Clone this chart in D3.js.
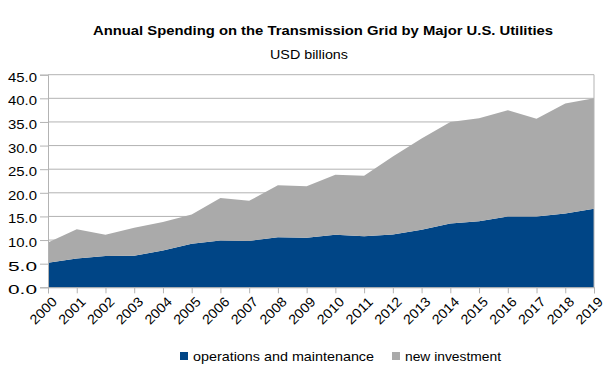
<!DOCTYPE html>
<html><head><meta charset="utf-8">
<script src="https://cdn.jsdelivr.net/npm/d3@7"></script>
<style>body{margin:0;background:#fff;}svg{display:block;font-family:"Liberation Sans",Arial,sans-serif;}</style>
</head><body><svg id="c" width="615" height="382"></svg>
<script>
const years = ["2000","2001","2002","2003","2004","2005","2006","2007","2008","2009","2010","2011","2012","2013","2014","2015","2016","2017","2018","2019"];
const operations = [5.2,6.1,6.6,6.7,7.8,9.2,9.9,9.8,10.6,10.5,11.1,10.8,11.2,12.2,13.5,14.0,15.0,15.0,15.6,16.6];
const newInvestment = [4.3,6.2,4.5,5.9,6.0,6.2,9.0,8.5,11.0,10.9,12.7,12.8,16.5,19.3,21.5,21.8,22.5,20.7,23.3,23.4];
const yTicks = [0,5,10,15,20,25,30,35,40,45];
const seriesNames = ["operations and maintenance","new investment"];
const colors = ["#004586","#aaaaaa"];

const svg = d3.select("#c");
const L=48,R=594,T=74.7,B=287.3;
const x = d3.scalePoint().domain(years).range([L,R]);
const y = d3.scaleLinear().domain([0,45]).range([B,T]);

const rows = years.map((yr,i)=>({year:yr, om:operations[i], ni:newInvestment[i]}));
const stack = d3.stack().keys(["om","ni"])(rows);

// gridlines
svg.append("g").selectAll("line").data(yTicks).join("line")
  .attr("x1",L).attr("x2",R).attr("y1",d=>y(d)).attr("y2",d=>y(d))
  .attr("stroke","#b3b3b3").attr("stroke-width",1);

const area = d3.area().x(d=>x(d.data.year)).y0(d=>y(d[0])).y1(d=>y(d[1]));
svg.append("g").selectAll("path").data(stack).join("path")
  .attr("d",area).attr("fill",(d,i)=>colors[i]);

// right border
svg.append("line").attr("x1",R).attr("x2",R).attr("y1",T).attr("y2",B).attr("stroke","#b3b3b3");

// y axis
const ya = svg.append("g").attr("transform",`translate(${L},0)`)
  .call(d3.axisLeft(y).tickValues(yTicks).tickFormat(d3.format(".1f")).tickSize(8).tickPadding(3));
ya.select(".domain").attr("stroke","#b3b3b3");
ya.selectAll(".tick line").attr("stroke","#b3b3b3");
ya.selectAll("text").attr("font-size",13).attr("fill","#000").attr("font-family","Liberation Sans, Arial, sans-serif")
  .attr("dy","0.5em").attr("textLength",29).attr("lengthAdjust","spacingAndGlyphs");

// x axis
const xa = svg.append("g").attr("transform",`translate(0,${B})`)
  .call(d3.axisBottom(x).tickSize(6).tickPadding(3));
xa.select(".domain").attr("stroke","#b3b3b3");
xa.selectAll(".tick line").attr("stroke","#b3b3b3");
xa.selectAll("text").attr("font-size",13.5).attr("fill","#000").attr("font-family","Liberation Sans, Arial, sans-serif")
  .attr("text-anchor","end").attr("dy","0").attr("textLength",32).attr("lengthAdjust","spacingAndGlyphs")
  .attr("transform","translate(3,9) rotate(-45)");

// title
svg.append("text").attr("x",323).attr("y",34.5).attr("text-anchor","middle")
  .attr("font-size",12.5).attr("font-weight","bold")
  .attr("textLength",460).attr("lengthAdjust","spacingAndGlyphs")
  .text("Annual Spending on the Transmission Grid by Major U.S. Utilities");
svg.append("text").attr("x",309).attr("y",59).attr("text-anchor","middle")
  .attr("font-size",13.5).attr("textLength",78).attr("lengthAdjust","spacingAndGlyphs")
  .text("USD billions");

// legend
const lx=[180,392];
const lw=[181,96];
const lg = svg.append("g").selectAll("g").data(seriesNames).join("g")
  .attr("transform",(d,i)=>`translate(${lx[i]},352)`);
lg.append("rect").attr("width",8).attr("height",8).attr("fill",(d,i)=>colors[i]);
lg.append("text").attr("x",13).attr("y",8.5).attr("font-size",13)
  .attr("textLength",(d,i)=>lw[i]).attr("lengthAdjust","spacingAndGlyphs").text(d=>d);
</script></body></html>
